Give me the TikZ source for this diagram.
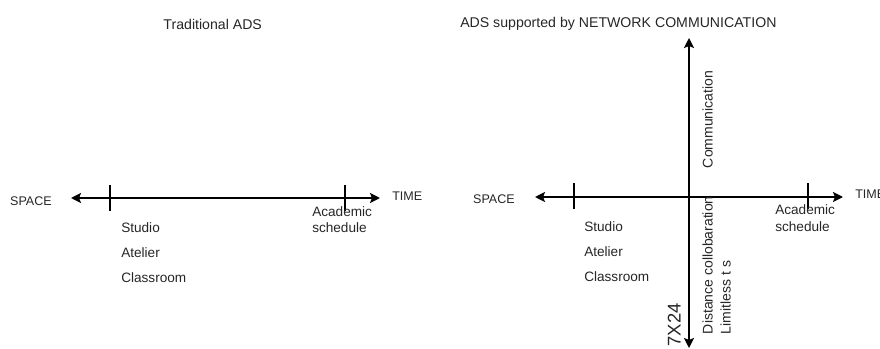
\documentclass[tikz,border=0pt]{standalone}
\usepackage{fontspec}
\setmainfont{Liberation Sans}
\usetikzlibrary{arrows.meta}

\begin{document}
\begin{tikzpicture}[
    x=0.75pt, y=-0.75pt,
    lbl/.style={font=\fontsize{10.2}{12.2}\selectfont, inner sep=0pt, text=black!85},
    ttl/.style={lbl, font=\fontsize{10.6}{12}\selectfont},
    axlbl/.style={lbl, font=\fontsize{9.4}{11}\selectfont},
    vlbl/.style={lbl, font=\fontsize{10.5}{12}\selectfont, rotate=90, anchor=base west},
    axis/.style={{Stealth[length=7.5pt,width=7.5pt,inset=1.5pt]}-{Stealth[length=7.5pt,width=7.5pt,inset=1.5pt]}, line width=1.6pt},
    tick/.style={line width=0.8pt}
]
\useasboundingbox (0,0) rectangle (880,349);

% traditional
\node[ttl, anchor=base] (ttl1) at (212.7,29.3) {Traditional ADS};
\coordinate (spL) at (71,198);
\coordinate (tmL) at (380,198);
\draw[axis] (spL) -- (tmL);
\draw[tick] (110,185) -- (110,211);
\draw[tick] (345,185) -- (345,211);
\node[axlbl, anchor=base east] (space1) at (52,205) {SPACE};
\node[axlbl, anchor=base west] (time1) at (392,200) {TIME};
\node[lbl, anchor=base west] (studio1) at (121,232.7) {Studio};
\node[lbl, anchor=base west] (atel1) at (121,257.7) {Atelier};
\node[lbl, anchor=base west] (class1) at (121,282.7) {Classroom};
\node[lbl, anchor=base west, align=left] (acad1) at (312,232.7) {Academic\\schedule};

% network communication
\node[ttl, anchor=base west] (ttl2) at (460,27.3) {ADS supported by NETWORK COMMUNICATION};
\coordinate (spR) at (535,197);
\coordinate (tmR) at (843,197);
\coordinate (comT) at (689,38);
\coordinate (comB) at (689,348);
\draw[axis] (spR) -- (tmR);
\draw[axis] (comB) -- (comT);
\draw[tick] (574,183) -- (574,209);
\draw[tick] (808,183) -- (808,209);
\node[axlbl, anchor=base east] (space2) at (515,203.3) {SPACE};
\node[axlbl, anchor=base west] (time2) at (855,198.3) {TIME};
\node[lbl, anchor=base west] (studio2) at (584,231) {Studio};
\node[lbl, anchor=base west] (atel2) at (584,256) {Atelier};
\node[lbl, anchor=base west] (class2) at (584,281) {Classroom};
\node[lbl, anchor=base west, align=left] (acad2) at (775,231) {Academic\\schedule};
\node[vlbl] (comm) at (712.7,168.3) {Communication};
\node[vlbl] (dist) at (712.7,334.3) {Distance collobaration};
\node[vlbl] (limit) at (730.7,334.3) {Limitless t s};
\node[vlbl, font=\fontsize{13.8}{16}\selectfont] (hours) at (680.7,346.7) {7X24};
\end{tikzpicture}
\end{document}
